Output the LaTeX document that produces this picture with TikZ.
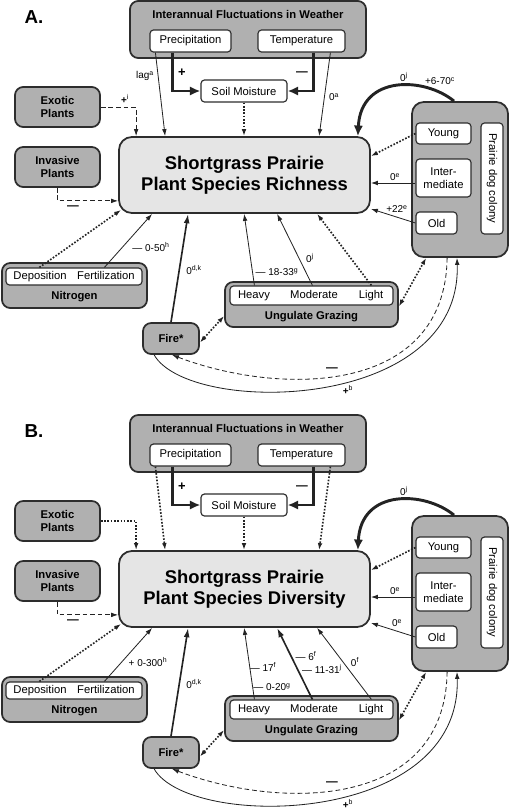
\documentclass[tikz,border=0pt]{standalone}
\usepackage{fontspec}
\setmainfont{Liberation Sans}
\usetikzlibrary{arrows.meta,calc}

\definecolor{boxgray}{RGB}{176,176,176}
\definecolor{mainfill}{RGB}{229,229,229}
\definecolor{rimgray}{RGB}{45,45,45}
\definecolor{ink}{RGB}{35,35,35}

% boxes shared by both panels: #1 panel letter, #2 last word of the main box
\newcommand{\panelboxes}[2]{%
  \node[font=\fontsize{16}{18}\selectfont\bfseries] (#1-letter) at (34,17) {#1.};
  \node[gbox,sz={236}{57}] (#1-wx) at (248,29.5) {};
  \node[txt,font=\fontsize{9.6}{11.6}\selectfont\bfseries] (#1-wxt) at (248,16) {Interannual Fluctuations in Weather};
  \node[wbox,sz={81}{22}] (#1-prec) at (190.5,41) {Precipitation};
  \node[wbox,sz={87}{22}] (#1-temp) at (301.5,41) {Temperature};
  \node[wbox,sz={86}{22}] (#1-soil) at (244,91) {Soil Moisture};
  \node[mainbox,sz={251}{76}] (#1-main) at (244.5,175) {Shortgrass Prairie\\Plant Species #2};
  \node[gbox,sz={85}{40}] (#1-exo) at (57.5,107) {Exotic\\Plants};
  \node[gbox,sz={85}{40}] (#1-inv) at (57.5,167) {Invasive\\Plants};
  \node[gbox,sz={96}{155},rounded corners=10pt] (#1-col) at (460,179.5) {};
  \node[wbox,sz={55}{21}] (#1-young) at (443.5,133.5) {Young};
  \node[wbox,sz={55}{38}] (#1-inter) at (443.5,178) {Inter-\\mediate};
  \node[wbox,sz={41}{22}] (#1-old) at (436.5,223) {Old};
  \node[wbox,sz={111}{22},rotate=-90] (#1-pdc) at (492,178.5) {Prairie dog colony};
  \node[gbox,sz={145}{45}] (#1-nit) at (74.5,285.5) {};
  \node[wbox,sz={136}{17}] (#1-nitw) at (74,276.5) {};
  \node[txt] (#1-dep) at (40,276.5) {Deposition};
  \node[txt] (#1-fert) at (106,276.5) {Fertilization};
  \node[txt,font=\fontsize{9.6}{11.6}\selectfont\bfseries] (#1-nitt) at (74.5,297) {Nitrogen};
  \node[gbox,sz={56}{31}] (#1-fire) at (171,338.5) {Fire*};
  \node[gbox,sz={173}{45}] (#1-graz) at (311.5,304.5) {};
  \node[wbox,sz={163}{19}] (#1-grazw) at (311.5,295.5) {};
  \node[txt] (#1-heavy) at (254,295.5) {Heavy};
  \node[txt] (#1-mod) at (314,295.5) {Moderate};
  \node[txt] (#1-light) at (371,295.5) {Light};
  \node[txt,font=\fontsize{9.6}{11.6}\selectfont\bfseries] (#1-grazt) at (311.5,317) {Ungulate Grazing};
}

\begin{document}
\begin{tikzpicture}[x=0.03cm,y=-0.03cm,
    txt/.style={font=\fontsize{9.6}{11.6}\selectfont,inner sep=0pt,text height=7pt,text depth=2pt},
    gbox/.style={draw=rimgray,fill=boxgray,line width=1.5pt,rounded corners=7pt,
      align=center,inner sep=0pt,font=\fontsize{9.6}{11.6}\selectfont\bfseries},
    wbox/.style={draw=rimgray,fill=white,line width=1pt,rounded corners=3pt,
      align=center,inner sep=0pt,font=\fontsize{9.6}{11.6}\selectfont},
    mainbox/.style={draw=rimgray,fill=mainfill,line width=1.5pt,rounded corners=11pt,
      align=center,inner sep=0pt,font=\fontsize{15.7}{18}\selectfont\bfseries},
    lbl/.style={font=\fontsize{8.5}{10}\selectfont,inner sep=0pt},
    sz/.style 2 args={minimum width=#1*0.03cm,minimum height=#2*0.03cm},
    arr/.style={draw=ink,line width=0.7pt,-{Latex[length=6pt,width=4pt]}},
    dots/.style={arr,line width=1.4pt,dash pattern=on 1.4pt off 1.4pt},
    dotsboth/.style={dots,{Latex[length=6pt,width=4pt]}-{Latex[length=6pt,width=4pt]}},
    dashy/.style={arr,dash pattern=on 4pt off 2.5pt},
    midarr/.style={draw=ink,line width=1.4pt,-{Latex[length=8pt,width=5pt]}},
    heavyarr/.style={draw=ink,line width=2.5pt,-{Latex[length=9pt,width=8pt]}}]
\useasboundingbox (0,0) rectangle (510,810);

% ---------- panel A ----------
\panelboxes{A}{Richness}

\draw[heavyarr] ($(A-prec.south west)+(23,0)$) |- (A-soil.west);
\draw[heavyarr] ($(A-temp.south west)+(56,0)$) |- (A-soil.east);
\draw[arr] ($(A-prec.south west)+(6,0)$) -- ($(A-main.north west)+(47,0)$);
\draw[arr] ($(A-temp.south west)+(73,0)$) -- ($(A-main.north west)+(201,0)$);
\draw[dots] (A-soil.south) -- (A-soil.south |- A-main.north);
\draw[dashy] (A-exo.east) -| ($(A-main.north west)+(18,0)$);
\draw[dashy] (A-inv.south) |- ($(A-main.south west)+(0,-13)$);
\draw[heavyarr] ($(A-col.north)+(-6,0)$) .. controls +(-29,-24) and +(3,-62) .. ($(A-main.north east)+(-13,0)$);
\draw[dots] (A-young.west) -- ($(A-main.north east)+(0,20)$);
\draw[arr] ($(A-inter.west)+(0,5)$) -- ($(A-main.east)+(0,8)$);
\draw[arr] (A-old.west) -- ($(A-main.south east)+(0,-5)$);
\draw[dots] ($(A-nitw.north west)+(34,0)$) -- ($(A-main.south west)+(3,-4)$);
\draw[arr] ($(A-nitw.north west)+(99,0)$) -- ($(A-main.south west)+(34,0)$);
\draw[midarr] (A-fire.north) -- ($(A-main.south west)+(70,0)$);
\draw[dotsboth] ($(A-fire.east)+(0,4)$) -- ($(A-graz.west)+(0,11.5)$);
\draw[arr] ($(A-grazw.north west)+(25,0)$) -- ($(A-main.south west)+(126,0)$);
\draw[arr] ($(A-grazw.north west)+(83,0)$) -- ($(A-main.south west)+(159,0)$);
\draw[dots] ($(A-grazw.north west)+(142,0)$) -- ($(A-main.south west)+(199,0)$);
\draw[dotsboth] ($(A-graz.east)+(0,2)$) -- ($(A-col.south west)+(15,0)$);
\draw[dashy] ($(A-col.south west)+(36,0)$) .. controls +(-2,138) and +(108,41) .. ($(A-fire.south)+(1,0)$);
\draw[arr] ($(A-fire.south west)+(12,0)$) .. controls +(35,61) and +(5,155) .. ($(A-col.south)+(-3,0)$);

\node[lbl,font=\fontsize{11}{12}\selectfont\bfseries] (A-plus) at (182,73) {+};
\node[lbl,font=\fontsize{10}{12}\selectfont\bfseries] (A-minus) at (302,74) {---};
\node[lbl] (A-lag) at (145,76) {lag\textsuperscript{a}};
\node[lbl] (A-templ) at (334,97) {0\textsuperscript{a}};
\node[lbl] (A-exol) at (125,99) {\textbf{+}\textsuperscript{i}};
\node[lbl,font=\fontsize{10}{12}\selectfont\bfseries] (A-invl) at (73,208) {---};
\node[lbl] (A-colj) at (404,77) {0\textsuperscript{j}};
\node[lbl] (A-colc) at (440,81) {+6-70\textsuperscript{c}};
\node[lbl] (A-interl) at (395,177) {0\textsuperscript{e}};
\node[lbl] (A-oldl) at (397,209) {+22\textsuperscript{e}};
\node[lbl] (A-fertl) at (151,247) {--- 0-50\textsuperscript{h}};
\node[lbl] (A-firel) at (194,270) {0\textsuperscript{d,k}};
\node[lbl] (A-heavyl) at (277,272) {--- 18-33\textsuperscript{g}};
\node[lbl] (A-modl) at (310,258) {0\textsuperscript{j}};
\node[lbl,font=\fontsize{10}{12}\selectfont\bfseries] (A-dashl) at (332,370) {---};
\node[lbl] (A-solidl) at (348,390) {\textbf{+}\textsuperscript{b}};

% ---------- panel B ----------
\begin{scope}[shift={(0,414)}]
\panelboxes{B}{Diversity}
\node[lbl,font=\fontsize{11}{12}\selectfont\bfseries] (B-plus) at (182,73) {+};
\node[lbl,font=\fontsize{10}{12}\selectfont\bfseries] (B-minus) at (302,74) {---};
\node[lbl,font=\fontsize{10}{12}\selectfont\bfseries] (B-invl) at (73,208) {---};
\node[lbl] (B-colj) at (404,77) {0\textsuperscript{j}};
\node[lbl] (B-interl) at (395,177) {0\textsuperscript{e}};
\node[lbl] (B-oldl) at (397,209) {0\textsuperscript{e}};
\node[lbl] (B-fertl) at (148,248) {+ 0-300\textsuperscript{h}};
\node[lbl] (B-firel) at (194,270) {0\textsuperscript{d,k}};
\node[lbl] (B-heavyl) at (263,253) {--- 17\textsuperscript{f}};
\node[lbl] (B-heavyg) at (272,273) {--- 0-20\textsuperscript{g}};
\node[lbl] (B-modl) at (306,242) {--- 6\textsuperscript{f}};
\node[lbl] (B-modj) at (322,255) {--- 11-31\textsuperscript{j}};
\node[lbl] (B-lightl) at (355,248) {0\textsuperscript{f}};
\node[lbl,font=\fontsize{10}{12}\selectfont\bfseries] (B-dashl) at (332,370) {---};
\node[lbl] (B-solidl) at (348,390) {\textbf{+}\textsuperscript{b}};
\end{scope}

\draw[heavyarr] ($(B-prec.south west)+(23,0)$) |- (B-soil.west);
\draw[heavyarr] ($(B-temp.south west)+(56,0)$) |- (B-soil.east);
\draw[dots] ($(B-prec.south west)+(6,0)$) -- ($(B-main.north west)+(47,0)$);
\draw[dots] ($(B-temp.south west)+(73,0)$) -- ($(B-main.north west)+(201,0)$);
\draw[dots] (B-soil.south) -- (B-soil.south |- B-main.north);
\draw[dots] (B-exo.east) -| ($(B-main.north west)+(18,0)$);
\draw[dashy] (B-inv.south) |- ($(B-main.south west)+(0,-13)$);
\draw[heavyarr] ($(B-col.north)+(-6,0)$) .. controls +(-29,-24) and +(3,-62) .. ($(B-main.north east)+(-13,0)$);
\draw[dots] (B-young.west) -- ($(B-main.north east)+(0,20)$);
\draw[arr] ($(B-inter.west)+(0,5)$) -- ($(B-main.east)+(0,8)$);
\draw[arr] (B-old.west) -- ($(B-main.south east)+(0,-5)$);
\draw[dots] ($(B-nitw.north west)+(34,0)$) -- ($(B-main.south west)+(3,-4)$);
\draw[arr] ($(B-nitw.north west)+(99,0)$) -- ($(B-main.south west)+(34,0)$);
\draw[midarr] (B-fire.north) -- ($(B-main.south west)+(70,0)$);
\draw[dotsboth] ($(B-fire.east)+(0,4)$) -- ($(B-graz.west)+(0,11.5)$);
\draw[arr] ($(B-grazw.north west)+(25,0)$) -- ($(B-main.south west)+(126,0)$);
\draw[midarr] ($(B-grazw.north west)+(83,0)$) -- ($(B-main.south west)+(159,0)$);
\draw[arr] ($(B-grazw.north west)+(142,0)$) -- ($(B-main.south west)+(199,0)$);
\draw[dotsboth] ($(B-graz.east)+(0,2)$) -- ($(B-col.south west)+(15,0)$);
\draw[dashy] ($(B-col.south west)+(36,0)$) .. controls +(-2,138) and +(108,41) .. ($(B-fire.south)+(1,0)$);
\draw[arr] ($(B-fire.south west)+(12,0)$) .. controls +(35,61) and +(5,155) .. ($(B-col.south)+(-3,0)$);
\end{tikzpicture}
\end{document}
